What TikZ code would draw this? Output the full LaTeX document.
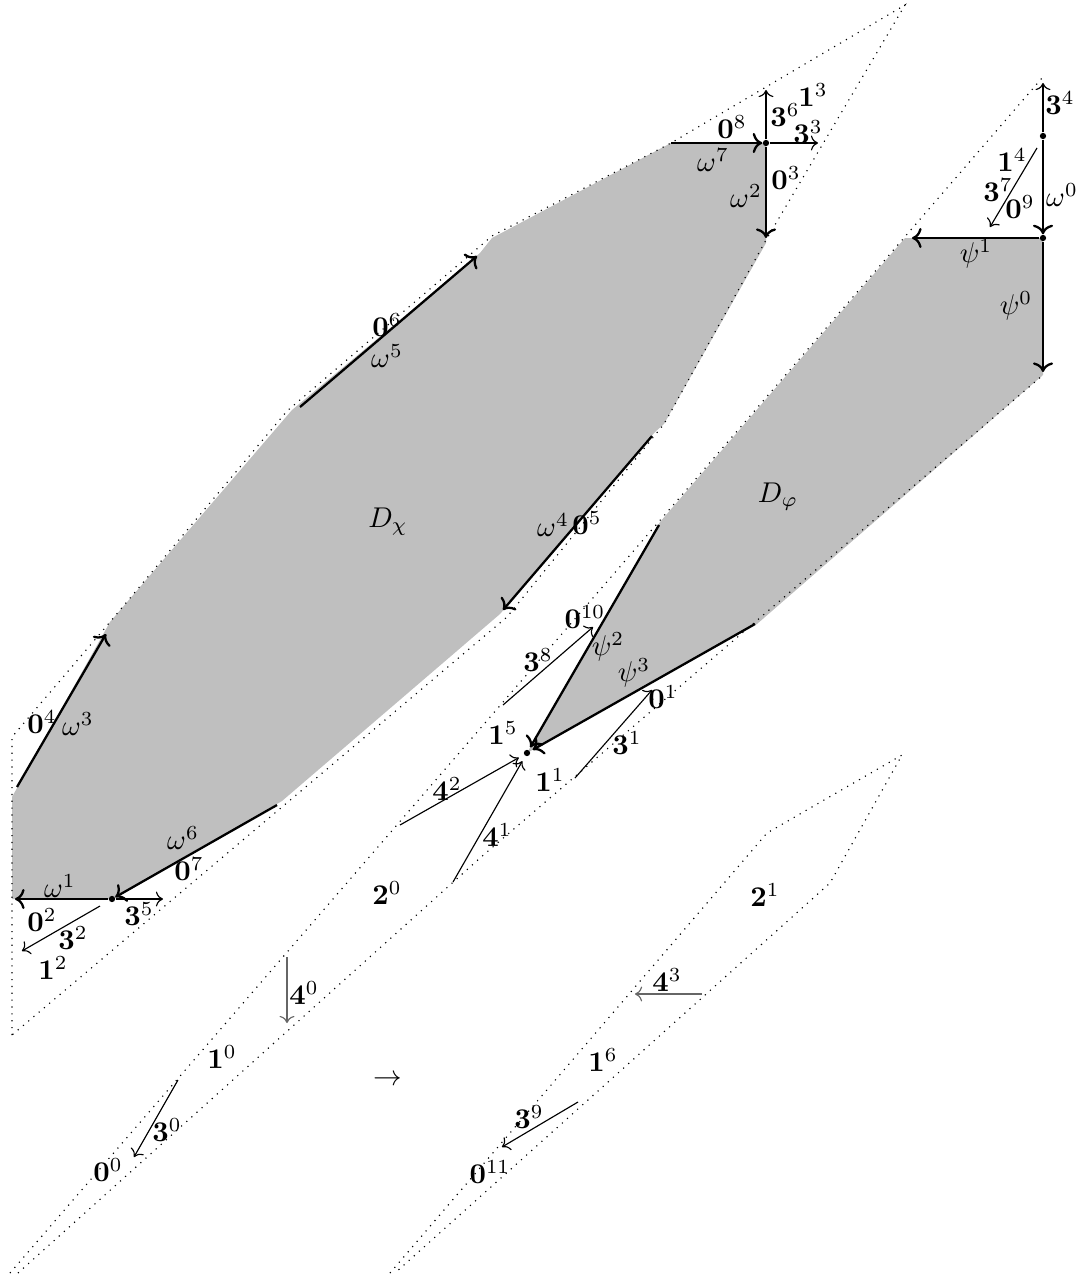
\documentclass[tikz,border=0pt]{standalone}
\usepackage{amsmath, amssymb}
\usepackage{tikz}
\usetikzlibrary{arrows.meta}

\begin{document}
\begin{tikzpicture}[x=0.35pt, y=-0.35pt,
  every node/.style={inner sep=1pt},
  outline/.style={dotted, line width=0.4pt},
  region/.style={fill=lightgray},
  heavy/.style={->, thick},
  light/.style={->, thin},
  faint/.style={->, thin, black!60},
  dot/.style={circle, fill=black, inner sep=0pt, minimum size=2.2pt}]

  \useasboundingbox (0,0) rectangle (1076,1275);

  \fill[region] (12,899) -- (12,797) -- (110,622) -- (292,410) -- (480,253) -- (492,238)
    -- (671,143) -- (766,143) -- (766,243) -- (664,424) -- (655,432) -- (500,614)
    -- (282,801) -- (114,899) -- cycle;
  \fill[region] (1043,238) -- (905,238) -- (660,522) -- (527,753) -- (757,624)
    -- (1043,375) -- cycle;

  \draw[outline] (12,1035) -- (12,737) -- (110,622) -- (287,411) -- (492,236) -- (671,143)
    -- (905,5) -- (766,240) -- (664,424) -- (507,617) -- cycle;
  \draw[outline] (10,1273) -- (1042,78);
  \draw[outline] (18,1273) -- (480,858) -- (1043,375);
  \draw[outline] (390,1273) -- (767,833) -- (902,755) -- (830,883) -- (395,1273);

  \node[dot] (p0) at (112,899) {};
  \node[dot] (p1) at (766,143) {};
  \node[dot] (p2) at (1043,136) {};
  \node[dot] (p3) at (1043,238) {};
  \node[dot] (p4) at (527,753) {};

  \coordinate (w1) at (15,899);
  \coordinate (w3a) at (17,787);
  \coordinate (w3b) at (106,634);
  \coordinate (w5a) at (300,407);
  \coordinate (w5b) at (477,256);
  \coordinate (w7a) at (671,143);
  \coordinate (w2) at (766,238);
  \coordinate (w4a) at (652,436);
  \coordinate (w4b) at (503,610);
  \coordinate (w6a) at (277,805);
  \coordinate (s1) at (912,238);
  \coordinate (s0) at (1043,372);
  \coordinate (s2a) at (659,525);
  \coordinate (s3a) at (755,624);

  \coordinate (t5) at (163,899);
  \coordinate (t2a) at (100,906);
  \coordinate (t2b) at (22,951);
  \coordinate (t6) at (766,90);
  \coordinate (t3) at (818,143);
  \coordinate (t4) at (1043,83);
  \coordinate (t7a) at (1037,148);
  \coordinate (t7b) at (990,227);
  \coordinate (t8a) at (503,705);
  \coordinate (t8b) at (593,627);
  \coordinate (t1a) at (575,778);
  \coordinate (t1b) at (652,690);
  \coordinate (f2) at (400,825);
  \coordinate (f1) at (453,882);
  \coordinate (f0a) at (287,957);
  \coordinate (f0b) at (287,1023);
  \coordinate (t0a) at (178,1080);
  \coordinate (t0b) at (134,1157);
  \coordinate (f3a) at (702,994);
  \coordinate (f3b) at (635,994);
  \coordinate (t9a) at (578,1102);
  \coordinate (t9b) at (502,1147);

  \draw[heavy] (p0) -- (w1);
  \draw[heavy] (w3a) -- (w3b);
  \draw[heavy] (w5a) -- (w5b);
  \draw[heavy] (w7a) -- (p1);
  \draw[heavy] (p1) -- (w2);
  \draw[heavy] (w4a) -- (w4b);
  \draw[heavy] (w6a) -- (p0);
  \draw[heavy] (p2) -- (p3);
  \draw[heavy] (p3) -- (s1);
  \draw[heavy] (p3) -- (s0);
  \draw[heavy, shorten >=1pt] (s2a) -- (p4);
  \draw[heavy, shorten >=1pt] (s3a) -- (p4);

  \draw[light] (p0) -- (t5);
  \draw[light] (t2a) -- (t2b);
  \draw[light] (p1) -- (t6);
  \draw[light] (p1) -- (t3);
  \draw[light] (p2) -- (t4);
  \draw[light] (t7a) -- (t7b);
  \draw[light] (t8a) -- (t8b);
  \draw[light] (t1a) -- (t1b);
  \draw[light, shorten >=2pt] (f2) -- (p4);
  \draw[light, shorten >=2pt] (f1) -- (p4);
  \draw[faint] (f0a) -- (f0b);
  \draw[light] (t0a) -- (t0b);
  \draw[faint] (f3a) -- (f3b);
  \draw[light] (t9a) -- (t9b);

  \node (b0-8) at (732,127) {$\mathbf{0}^{8}$};
  \node (om7) at (713,160) {$\omega^{7}$};
  \node (b3-6) at (785,115) {$\mathbf{3}^{6}$};
  \node (b1-3) at (813,95) {$\mathbf{1}^{3}$};
  \node (b3-3) at (808,132) {$\mathbf{3}^{3}$};
  \node (b0-3) at (786,178) {$\mathbf{0}^{3}$};
  \node (om2) at (746,196) {$\omega^{2}$};
  \node (b3-4) at (1060,103) {$\mathbf{3}^{4}$};
  \node (b1-4) at (1012,160) {$\mathbf{1}^{4}$};
  \node (b3-7) at (998,190) {$\mathbf{3}^{7}$};
  \node (b0-9) at (1020,207) {$\mathbf{0}^{9}$};
  \node (om0) at (1062,195) {$\omega^{0}$};
  \node (ps1) at (976,254) {$\psi^{1}$};
  \node (ps0) at (1016,306) {$\psi^{0}$};
  \node (Dphi) at (778,497) {$D_\varphi$};
  \node (Dchi) at (388,522) {$D_\chi$};
  \node (b0-6) at (387,325) {$\mathbf{0}^{6}$};
  \node (om5) at (387,356) {$\omega^{5}$};
  \node (b0-4) at (42,722) {$\mathbf{0}^{4}$};
  \node (om3) at (78,724) {$\omega^{3}$};
  \node (om1) at (60,886) {$\omega^{1}$};
  \node (b0-2) at (42,920) {$\mathbf{0}^{2}$};
  \node (b3-2) at (73,938) {$\mathbf{3}^{2}$};
  \node (b1-2) at (53,968) {$\mathbf{1}^{2}$};
  \node (b3-5) at (139,914) {$\mathbf{3}^{5}$};
  \node (om6) at (183,838) {$\omega^{6}$};
  \node (b0-7) at (189,869) {$\mathbf{0}^{7}$};
  \node (om4) at (553,525) {$\omega^{4}$};
  \node (b0-5) at (587,523) {$\mathbf{0}^{5}$};
  \node (b0-10) at (585,617) {$\mathbf{0}^{10}$};
  \node (b3-8) at (538,660) {$\mathbf{3}^{8}$};
  \node (b1-5) at (503,733) {$\mathbf{1}^{5}$};
  \node (ps2) at (608,647) {$\psi^{2}$};
  \node (ps3) at (634,673) {$\psi^{3}$};
  \node (b0-1) at (663,697) {$\mathbf{0}^{1}$};
  \node (b3-1) at (627,743) {$\mathbf{3}^{1}$};
  \node (b1-1) at (550,780) {$\mathbf{1}^{1}$};
  \node (b4-2) at (447,789) {$\mathbf{4}^{2}$};
  \node (b4-1) at (497,835) {$\mathbf{4}^{1}$};
  \node (b2-0) at (387,893) {$\mathbf{2}^{0}$};
  \node (b4-0) at (304,993) {$\mathbf{4}^{0}$};
  \node (b1-0) at (222,1057) {$\mathbf{1}^{0}$};
  \node (b3-0) at (167,1130) {$\mathbf{3}^{0}$};
  \node (b0-0) at (108,1170) {$\mathbf{0}^{0}$};
  \node (map) at (388,1080) {$\to$};
  \node (b2-1) at (765,895) {$\mathbf{2}^{1}$};
  \node (b4-3) at (667,980) {$\mathbf{4}^{3}$};
  \node (b1-6) at (603,1060) {$\mathbf{1}^{6}$};
  \node (b3-9) at (529,1117) {$\mathbf{3}^{9}$};
  \node (b0-11) at (490,1172) {$\mathbf{0}^{11}$};
\end{tikzpicture}
\end{document}
